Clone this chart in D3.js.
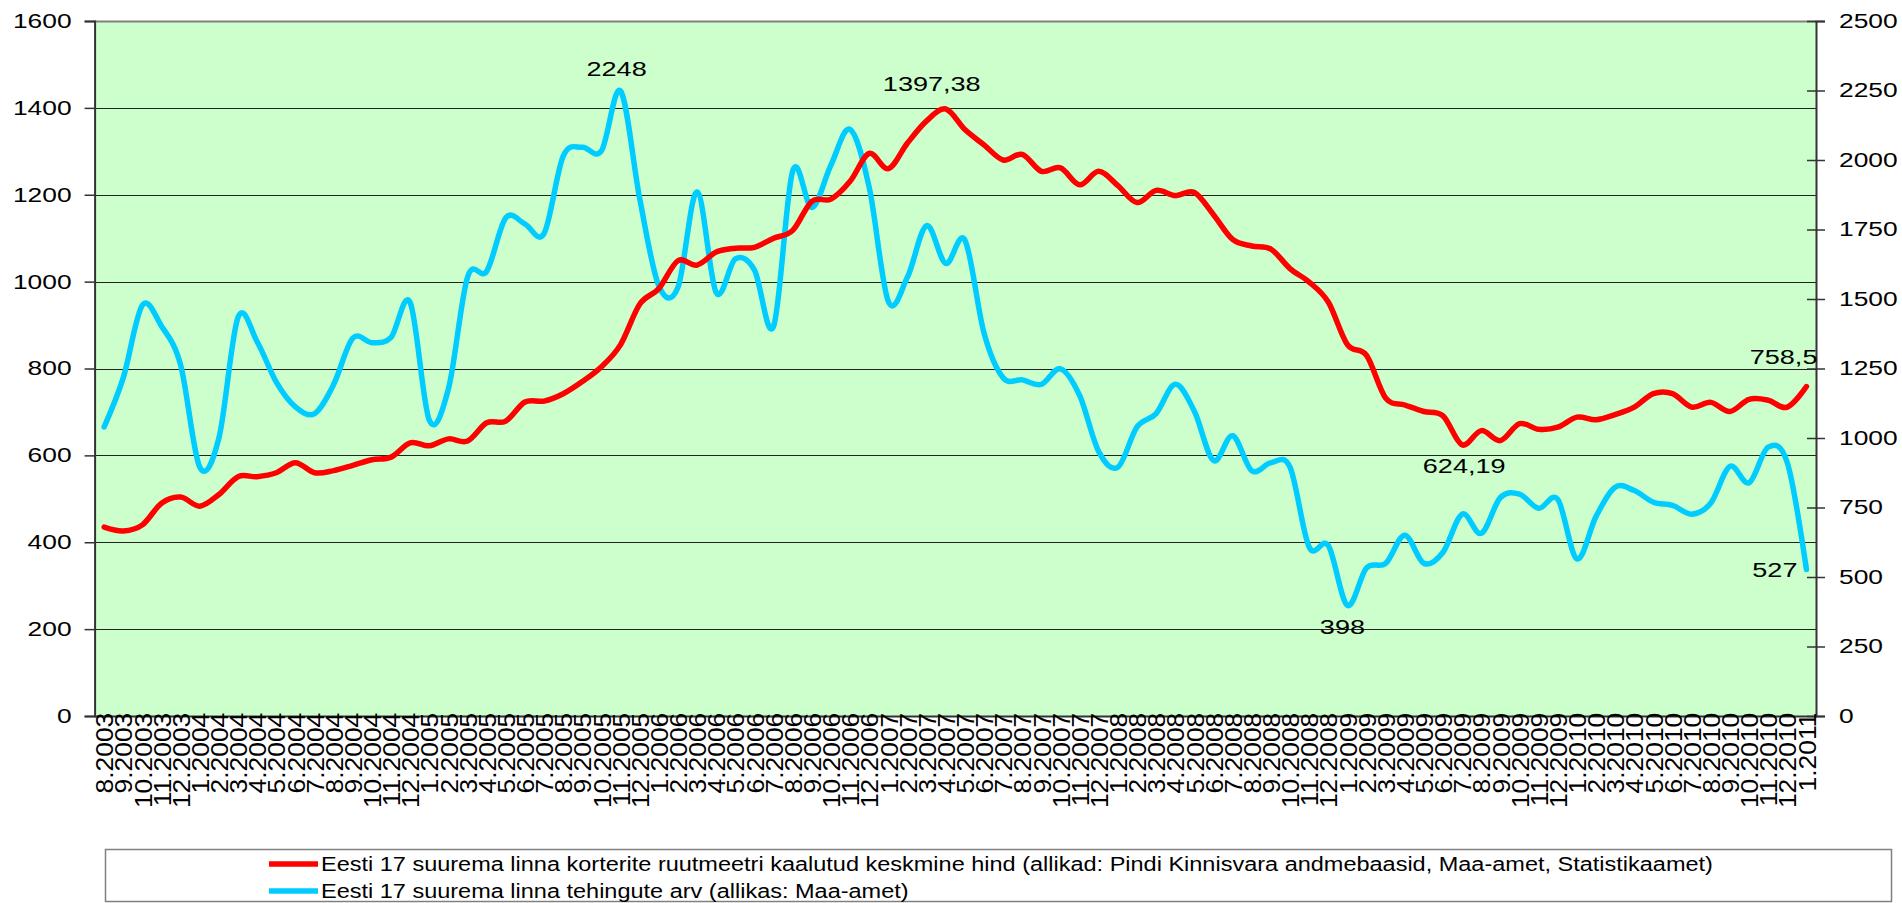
<!DOCTYPE html>
<html>
<head>
<meta charset="utf-8">
<script src="https://cdn.jsdelivr.net/npm/d3@7"></script>
<style>
html,body{margin:0;padding:0;background:#fff;}
svg{display:block;}
text{font-family:"Liberation Sans",Arial,sans-serif;fill:#000;}
</style>
</head>
<body>
<svg id="chart" width="1902" height="903"></svg>
<script>
const months = ["8.2003","9.2003","10.2003","11.2003","12.2003",
"1.2004","2.2004","3.2004","4.2004","5.2004","6.2004","7.2004","8.2004","9.2004","10.2004","11.2004","12.2004",
"1.2005","2.2005","3.2005","4.2005","5.2005","6.2005","7.2005","8.2005","9.2005","10.2005","11.2005","12.2005",
"1.2006","2.2006","3.2006","4.2006","5.2006","6.2006","7.2006","8.2006","9.2006","10.2006","11.2006","12.2006",
"1.2007","2.2007","3.2007","4.2007","5.2007","6.2007","7.2007","8.2007","9.2007","10.2007","11.2007","12.2007",
"1.2008","2.2008","3.2008","4.2008","5.2008","6.2008","7.2008","8.2008","9.2008","10.2008","11.2008","12.2008",
"1.2009","2.2009","3.2009","4.2009","5.2009","6.2009","7.2009","8.2009","9.2009","10.2009","11.2009","12.2009",
"1.2010","2.2010","3.2010","4.2010","5.2010","6.2010","7.2010","8.2010","9.2010","10.2010","11.2010","12.2010",
"1.2011"];

// Eesti 17 suurema linna korterite ruutmeetri kaalutud keskmine hind (left axis)
const price = [435,426,440,490,504,
483,510,551,551,560,583,560,565,577,590,596,629,
622,638,633,675,679,723,725,742,770,804,855,948,
984,1048,1038,1068,1077,1079,1100,1118,1185,1190,1231,1295,
1260,1319,1370,1397.38,1350,1315,1280,1293,1254,1262,1223,1254,
1221,1182,1210,1198,1205,1154,1097,1082,1075,1030,999,953,
855,830,732,716,701,691,624.19,657,634,673,660,665,
688,682,694,711,742,742,711,722,701,729,727,711,
758.5];

// Eesti 17 suurema linna tehingute arv (right axis)
const deals = [1040,1217,1478,1402,1262,
895,1000,1434,1346,1201,1112,1088,1193,1359,1343,1362,1487,
1064,1177,1579,1600,1792,1770,1736,2014,2046,2033,2248,1861,
1547,1542,1885,1523,1644,1604,1402,1961,1829,1982,2110,1901,
1491,1579,1764,1628,1712,1378,1217,1209,1193,1249,1153,951,
895,1040,1088,1193,1096,919,1008,882,911,895,608,613,
398,533,549,650,549,589,726,657,786,798,747,779,
565,718,823,811,769,758,726,766,898,839,967,911,
527];

const leftTicks = [0,200,400,600,800,1000,1200,1400,1600];
const rightTicks = [0,250,500,750,1000,1250,1500,1750,2000,2250,2500];

const seriesNames = [
  "Eesti 17 suurema linna korterite ruutmeetri kaalutud keskmine hind (allikad: Pindi Kinnisvara andmebaasid, Maa-amet, Statistikaamet)",
  "Eesti 17 suurema linna tehingute arv (allikas: Maa-amet)"
];

// value labels: [seriesIndex, monthIndex, text]
const valueLabels = [
  [1, 27, "2248"],
  [0, 44, "1397,38"],
  [0, 71, "624,19"],
  [1, 65, "398"],
  [0, 89, "758,5"],
  [1, 89, "527"]
];
// label placement offsets relative to the point (style only)
const labelPlace = [
  {dx: -4, dy: -15, anchor: "middle"},
  {dx: -14, dy: -18, anchor: "middle"},
  {dx: 2, dy: 28, anchor: "middle"},
  {dx: -5, dy: 29, anchor: "middle"},
  {dx: 11, dy: -23, anchor: "end"},
  {dx: -9, dy: 8, anchor: "end"}
];

const L = 94.6, R = 1816, T = 21, B = 716;
const RED = "#FF0000", BLUE = "#00CCFF";
const SX = 1.32; // horizontal stretch of text in the reference
const FONT = '"Liberation Sans",Arial,sans-serif';

const svg = d3.select("#chart");

const x = d3.scalePoint().domain(months).range([L, R]).padding(0.5);
const yL = d3.scaleLinear().domain([0, 1600]).range([B, T]);
const yR = d3.scaleLinear().domain([0, 2500]).range([B, T]);

function stretch(sel, sx, sy) {
  sel.each(function() {
    const t = d3.select(this);
    const tx = +t.attr("x") || 0, ty = +t.attr("y") || 0;
    t.attr("x", 0).attr("y", 0)
     .attr("transform", `translate(${tx},${ty}) scale(${sx},${sy || 1})`);
  });
}

// plot background
svg.append("rect").attr("x", L).attr("y", T).attr("width", R - L).attr("height", B - T)
  .attr("fill", "#CCFFCC");

// gridlines
svg.append("g").selectAll("line").data(leftTicks.filter(d => d > 0)).join("line")
  .attr("x1", L).attr("x2", R)
  .attr("y1", d => Math.round(yL(d)) + 0.5).attr("y2", d => Math.round(yL(d)) + 0.5)
  .attr("stroke", d => d === 1600 ? "#808080" : "#222")
  .attr("stroke-width", d => d === 1600 ? 2 : 1.2);

// left axis
const gL = svg.append("g").attr("transform", `translate(${L},0)`)
  .call(d3.axisLeft(yL).tickValues(leftTicks).tickSize(10).tickPadding(13).tickFormat(d3.format("d")));
gL.select(".domain").attr("stroke", "#333").attr("stroke-width", 2);
gL.selectAll(".tick line").attr("stroke", "#333").attr("stroke-width", 1.5);
gL.selectAll(".tick text").style("font-size", "20px").style("font-family", FONT).attr("fill", "#000")
  .call(stretch, SX);

// right axis
const gR = svg.append("g").attr("transform", `translate(${R},0)`)
  .call(d3.axisRight(yR).tickValues(rightTicks).tickSize(9).tickPadding(14).tickFormat(d3.format("d")));
gR.select(".domain").attr("stroke", "#333").attr("stroke-width", 2);
gR.selectAll(".tick line").attr("x1", -9).attr("stroke", "#333").attr("stroke-width", 1.5);
gR.selectAll(".tick text").style("font-size", "20px").style("font-family", FONT).attr("fill", "#000")
  .call(stretch, SX);

// bottom axis (rotated month labels)
const gB = svg.append("g").attr("transform", `translate(0,${B})`)
  .call(d3.axisBottom(x).tickSize(0).tickPadding(0));
gB.select(".domain").attr("stroke", "#333").attr("stroke-width", 2);
gB.selectAll(".tick text")
  .attr("transform", "rotate(-90) scale(1.1,1)")
  .attr("x", 3).attr("y", 0).attr("dy", "0.36em")
  .attr("text-anchor", "end")
  .style("font-size", "24px").style("font-family", FONT).attr("fill", "#000");

// lines
const lineL = d3.line().x((d, i) => x(months[i])).y(d => yL(d)).curve(d3.curveCardinal.tension(0));
const lineR = d3.line().x((d, i) => x(months[i])).y(d => yR(d)).curve(d3.curveCardinal.tension(0));

const plot = svg.append("g");
plot.append("path").datum(deals).attr("d", lineR).attr("fill", "none")
  .attr("stroke", BLUE).attr("stroke-width", 5.5).attr("stroke-linejoin", "round").attr("stroke-linecap", "round");
plot.append("path").datum(price).attr("d", lineL).attr("fill", "none")
  .attr("stroke", RED).attr("stroke-width", 5.5).attr("stroke-linejoin", "round").attr("stroke-linecap", "round");

// value labels
const series = [price, deals];
const scales = [yL, yR];
svg.append("g").selectAll("text").data(valueLabels).join("text")
  .attr("x", (d, k) => x(months[d[1]]) + labelPlace[k].dx)
  .attr("y", (d, k) => scales[d[0]](series[d[0]][d[1]]) + labelPlace[k].dy)
  .attr("text-anchor", (d, k) => labelPlace[k].anchor)
  .style("font-size", "20.5px")
  .text(d => d[2])
  .call(stretch, SX);

// legend
const lg = svg.append("g");
lg.append("rect").attr("x", 105.5).attr("y", 849.5).attr("width", 1786).attr("height", 52)
  .attr("fill", "#fff").attr("stroke", "#808080").attr("stroke-width", 1.5);
const legendRows = [[RED, seriesNames[0], 864], [BLUE, seriesNames[1], 891]];
legendRows.forEach(([c, t, yy]) => {
  lg.append("line").attr("x1", 269).attr("x2", 318).attr("y1", yy).attr("y2", yy)
    .attr("stroke", c).attr("stroke-width", 5.5);
  lg.append("text").attr("x", 321).attr("y", yy).attr("dy", "0.36em")
    .style("font-size", "20px").text(t)
    .call(stretch, 1.175);
});
</script>
</body>
</html>
